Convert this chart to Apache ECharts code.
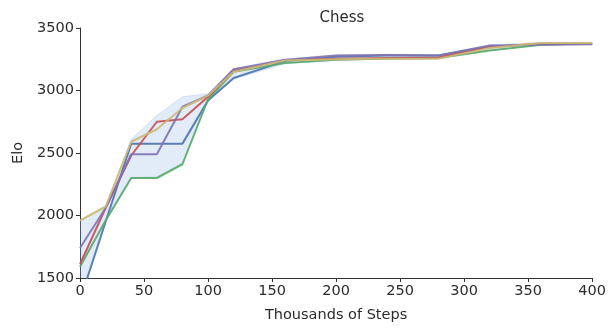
<!DOCTYPE html>
<html>
<head>
<meta charset="utf-8">
<script src="https://cdn.jsdelivr.net/npm/echarts@6/dist/echarts.min.js"></script>
<style>
html,body{margin:0;padding:0;background:#fff;}
#chart{width:609px;height:328px;}
</style>
</head>
<body>
<div id="chart"></div>
<script>
// Thousands of steps at which each run was evaluated
var steps = [0, 20, 40, 60, 80, 100, 120, 160, 200, 240, 280, 320, 360, 400];

// Elo of each run
var runBlue   = [1320, 1950, 2575, 2575, 2575, 2920, 3100, 3235, 3270, 3280, 3280, 3350, 3370, 3375];
var runGreen  = [1590, 1960, 2300, 2300, 2410, 2930, 3150, 3220, 3245, 3255, 3260, 3320, 3365, 3375];
var runRed    = [1610, 2060, 2480, 2750, 2770, 2950, 3160, 3245, 3255, 3260, 3265, 3350, 3375, 3375];
var runPurple = [1740, 2060, 2490, 2490, 2870, 2960, 3170, 3245, 3280, 3285, 3280, 3360, 3365, 3370];
var runYellow = [1960, 2070, 2590, 2690, 2860, 2960, 3150, 3240, 3250, 3255, 3255, 3340, 3380, 3380];

// Shaded band edges
var bandLower = [1350, 1950, 2300, 2310, 2420, 2920, 3090, 3215, 3240, 3250, 3255, 3320, 3360, 3370];
var bandUpper = [1960, 2080, 2610, 2800, 2950, 2975, 3175, 3255, 3285, 3290, 3285, 3365, 3385, 3385];

var xTicks = [0, 50, 100, 150, 200, 250, 300, 350, 400];
var yTicks = [1500, 2000, 2500, 3000, 3500];

function pairs(ys) { return steps.map(function (x, i) { return [x, ys[i]]; }); }

var font = 'DejaVu Sans';
var textColor = '#2b2b2b';
var axisColor = '#333';

var runs = [
  {name: 'blue',   data: runBlue,   color: '#4C72B0'},
  {name: 'green',  data: runGreen,  color: '#55A868'},
  {name: 'red',    data: runRed,    color: '#C44E52'},
  {name: 'purple', data: runPurple, color: '#8172B2'},
  {name: 'yellow', data: runYellow, color: '#CCB974'}
];

var bandData = steps.map(function (x, i) { return [x, bandLower[i], bandUpper[i]]; });

var series = [
  {
    type: 'custom', name: 'band', data: bandData, silent: true, z: 1, clip: true,
    encode: {x: 0, y: [1, 2]},
    renderItem: function (params, api) {
      if (params.dataIndex !== 0) return null;
      var pts = [], i;
      for (i = 0; i < bandData.length; i++) pts.push(api.coord([bandData[i][0], bandData[i][2]]));
      for (i = bandData.length - 1; i >= 0; i--) pts.push(api.coord([bandData[i][0], bandData[i][1]]));
      var cs = params.coordSys;
      return {
        type: 'polygon', shape: {points: pts},
        style: {fill: 'rgba(120,170,225,0.22)', stroke: 'rgba(120,170,225,0.25)', lineWidth: 1},
        clipPath: {type: 'rect', shape: {x: cs.x, y: cs.y, width: cs.width, height: cs.height}}
      };
    }
  }
];
runs.forEach(function (r) {
  series.push({
    type: 'line', name: r.name, data: pairs(r.data), symbol: 'none',
    lineStyle: {width: 2, color: r.color, opacity: 0.9}, itemStyle: {color: r.color},
    clip: true, z: 2
  });
});

var chart = echarts.init(document.getElementById('chart'), null, {renderer: 'canvas'});
chart.setOption({
  animation: false,
  backgroundColor: '#fff',
  title: {
    text: 'Chess', left: 337, top: 6, textAlign: 'center',
    textStyle: {fontFamily: font, fontSize: 15, fontWeight: 'normal', color: textColor}
  },
  grid: {left: 80, right: 15, top: 28, bottom: 44, containLabel: false},
  xAxis: {
    type: 'value', min: 0, max: 400, interval: 50,
    name: 'Thousands of Steps', nameLocation: 'middle', nameGap: 30,
    nameTextStyle: {fontFamily: font, fontSize: 14.5, color: textColor},
    axisLine: {show: true, lineStyle: {color: axisColor, width: 1}},
    axisTick: {show: true, length: 4, lineStyle: {color: axisColor}},
    axisLabel: {fontFamily: font, fontSize: 14.5, color: textColor, margin: 6,
      formatter: function (v) { return xTicks.indexOf(v) >= 0 ? String(v) : ''; }},
    splitLine: {show: false}
  },
  yAxis: {
    type: 'value', min: 1500, max: 3500, interval: 500,
    name: 'Elo', nameLocation: 'middle', nameGap: 50, nameRotate: 90,
    nameTextStyle: {fontFamily: font, fontSize: 14.5, color: textColor},
    axisLine: {show: true, lineStyle: {color: axisColor, width: 1}},
    axisTick: {show: true, length: 4, lineStyle: {color: axisColor}},
    axisLabel: {fontFamily: font, fontSize: 14.5, color: textColor, margin: 6,
      formatter: function (v) { return yTicks.indexOf(v) >= 0 ? String(v) : ''; }},
    splitLine: {show: false}
  },
  series: series
});
</script>
</body>
</html>
